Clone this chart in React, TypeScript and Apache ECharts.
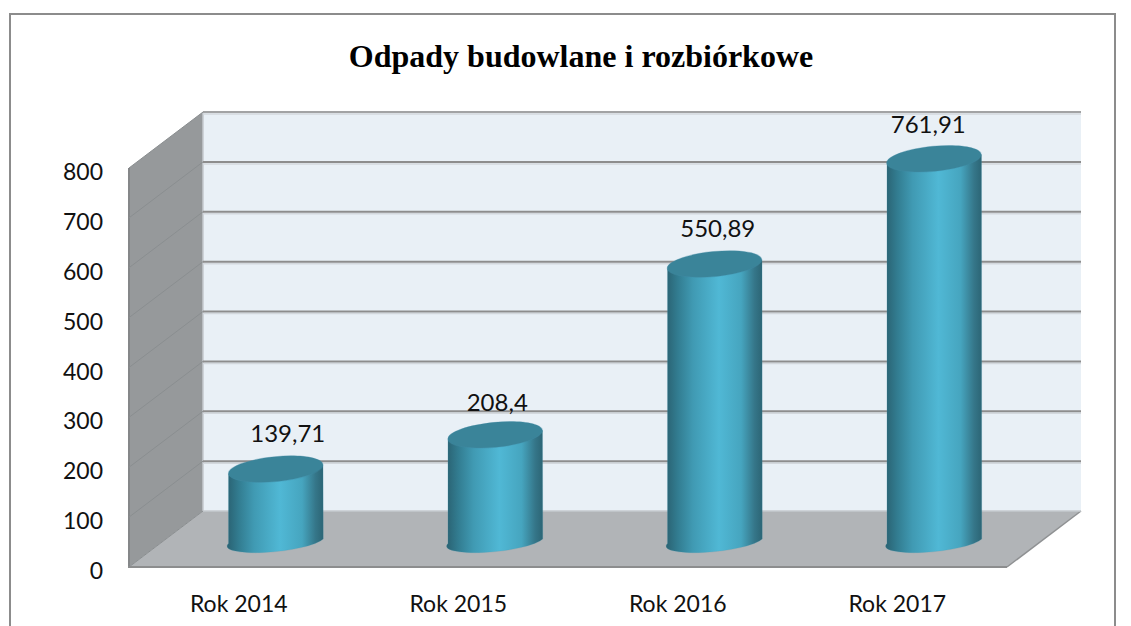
import React, { useEffect, useRef } from "react";
import * as echarts from "echarts";

const titleText = "Odpady budowlane i rozbiórkowe";
const categories = ["Rok 2014", "Rok 2015", "Rok 2016", "Rok 2017"];
const values = [139.71, 208.4, 550.89, 761.91];
const valueLabels = ["139,71", "208,4", "550,89", "761,91"];
const ticks = [0, 100, 200, 300, 400, 500, 600, 700, 800];

const DEPTH_X = 74;
const DEPTH_Y = -56;
const GRID = { left: 129, top: 168, width: 878, height: 399 };
const CYL_A = 47.5;
const CYL_B_BASE = 10;
const CYL_B_TOP = 12.5;
const TILT_DEG = -5.5;
const LABEL_DX = [12, 2, 3, -6];
const LABEL_DY = [-37, -34, -37, -35];

const tilt = (TILT_DEG * Math.PI) / 180;

function renderWalls(params: any) {
  const { x, y, width: w, height: h } = params.coordSys;
  const b = y + h;
  return {
    type: "group",
    children: [
      { type: "polygon", shape: { points: [[x + DEPTH_X, y + DEPTH_Y], [x + w + DEPTH_X, y + DEPTH_Y], [x + w + DEPTH_X, b + DEPTH_Y], [x + DEPTH_X, b + DEPTH_Y]] }, style: { fill: "#e9f0f6" } },
      { type: "polygon", shape: { points: [[x, y], [x + DEPTH_X, y + DEPTH_Y], [x + DEPTH_X, b + DEPTH_Y], [x, b]] }, style: { fill: "#96999b" } },
      { type: "polygon", shape: { points: [[x, b], [x + DEPTH_X, b + DEPTH_Y], [x + w + DEPTH_X, b + DEPTH_Y], [x + w, b]] }, style: { fill: "#b1b4b7" } },
      { type: "line", shape: { x1: x, y1: y, x2: x, y2: b }, style: { stroke: "#858789", lineWidth: 2 } },
      { type: "line", shape: { x1: x - 1, y1: b, x2: x + w, y2: b }, style: { stroke: "#8c8d8e", lineWidth: 2 } },
      { type: "line", shape: { x1: x + w, y1: b, x2: x + w + DEPTH_X, y2: b + DEPTH_Y }, style: { stroke: "#8f9193", lineWidth: 1.5 } },
      { type: "line", shape: { x1: x + DEPTH_X, y1: y + DEPTH_Y, x2: x + DEPTH_X, y2: b + DEPTH_Y }, style: { stroke: "#c5cace", lineWidth: 1.5 } },
    ],
  };
}

function renderTick(params: any, api: any) {
  const v = api.value(0);
  const { x, width: w } = params.coordSys;
  const py = api.coord([0, v])[1];
  const children: any[] = [
    { type: "line", shape: { x1: x, y1: py, x2: x + DEPTH_X, y2: py + DEPTH_Y }, style: { stroke: "#8a8e90", lineWidth: 1 } },
  ];
  if (v > 0) {
    children.push(
      { type: "line", shape: { x1: x + DEPTH_X, y1: py + DEPTH_Y + 2, x2: x + w + DEPTH_X, y2: py + DEPTH_Y + 2 }, style: { stroke: "#d3d8dd", lineWidth: 1.5 } },
      { type: "line", shape: { x1: x + DEPTH_X, y1: py + DEPTH_Y, x2: x + w + DEPTH_X, y2: py + DEPTH_Y }, style: { stroke: v === 800 ? "#a2a3a4" : "#8d8d8d", lineWidth: 2 } },
    );
  } else {
    children.push({ type: "line", shape: { x1: x + DEPTH_X, y1: py + DEPTH_Y, x2: x + w + DEPTH_X, y2: py + DEPTH_Y }, style: { stroke: "#c5cace", lineWidth: 1.5 } });
  }
  return { type: "group", children };
}

function renderCylinder(params: any, api: any) {
  const i = api.value(0);
  const v = api.value(1);
  const top = api.coord([i, v]);
  const base = api.coord([i, 0]);
  const cx = base[0] + DEPTH_X / 2;
  const ty = top[1] + DEPTH_Y / 2;
  const by = base[1] + DEPTH_Y / 2;
  const dx = CYL_A * Math.cos(tilt);
  const dy = CYL_A * Math.sin(tilt);
  const rot = TILT_DEG;
  const d =
    `M${cx - dx} ${ty - dy} L${cx - dx} ${by - dy} ` +
    `A${CYL_A} ${CYL_B_BASE} ${rot} 0 0 ${cx + dx} ${by + dy} ` +
    `L${cx + dx} ${ty + dy} Z`;
  const gradient = new echarts.graphic.LinearGradient(0, 0, 1, 0, [
    { offset: 0, color: "#2a6272" },
    { offset: 0.12, color: "#327c90" },
    { offset: 0.28, color: "#409ab3" },
    { offset: 0.55, color: "#50b8d5" },
    { offset: 0.78, color: "#46a5bf" },
    { offset: 0.92, color: "#357689" },
    { offset: 1, color: "#2c6575" },
  ]);
  return {
    type: "group",
    children: [
      { type: "path", shape: { pathData: d }, style: { fill: gradient, stroke: "rgba(70,150,175,0.2)", lineWidth: 1 } },
      { type: "ellipse", originX: cx, originY: ty, rotation: -tilt, shape: { cx, cy: ty, rx: CYL_A, ry: CYL_B_TOP }, style: { fill: "#3a8499", stroke: "rgba(70,140,165,0.35)", lineWidth: 1 } },
      {
        type: "text",
        x: cx + LABEL_DX[i],
        y: ty + LABEL_DY[i],
        style: { text: valueLabels[i], fill: "#111111", font: "24px Lato", textAlign: "center", textVerticalAlign: "middle" },
      },
    ],
  };
}

export default function App() {
  const ref = useRef<HTMLDivElement>(null);
  useEffect(() => {
    document.body.style.margin = "0";
    const chart = echarts.init(ref.current!, undefined, { renderer: "svg" });
    chart.setOption({
      animation: false,
      backgroundColor: "#ffffff",
      title: {
        text: titleText,
        left: 576,
        top: 35,
        textAlign: "center",
        textStyle: { fontFamily: "Liberation Serif", fontWeight: "bold", fontSize: 32, color: "#000000" },
      },
      graphic: [
        { type: "rect", shape: { x: 10, y: 14, width: 1105, height: 640 }, style: { fill: "none", stroke: "#8c8c8c", lineWidth: 2 }, silent: true },
      ],
      grid: { ...GRID, containLabel: false },
      xAxis: {
        type: "category",
        data: categories,
        axisLine: { show: false },
        axisTick: { show: false },
        axisLabel: { fontFamily: "Lato", fontSize: 23, color: "#111111", margin: 24 },
      },
      yAxis: {
        type: "value",
        min: 0,
        max: 800,
        interval: 100,
        axisLine: { show: false },
        axisTick: { show: false },
        splitLine: { show: false },
        axisLabel: { fontFamily: "Lato", fontSize: 23, color: "#111111", margin: 26, verticalAlign: "top", lineHeight: 6 },
      },
      series: [
        { type: "custom", silent: true, renderItem: renderWalls, data: [[0]], encode: { y: 0 }, z: 1, clip: false },
        { type: "custom", silent: true, renderItem: renderTick, data: ticks.map((t) => [t]), encode: { y: 0 }, z: 2, clip: false },
        {
          type: "custom",
          renderItem: renderCylinder,
          data: values.map((v, i) => [i, v]),
          encode: { x: 0, y: 1 },
          z: 3,
          clip: false,
        },
      ],
    });
    return () => chart.dispose();
  }, []);
  return <div ref={ref} style={{ position: "absolute", left: 0, top: 0, width: 1131, height: 626 }} />;
}
